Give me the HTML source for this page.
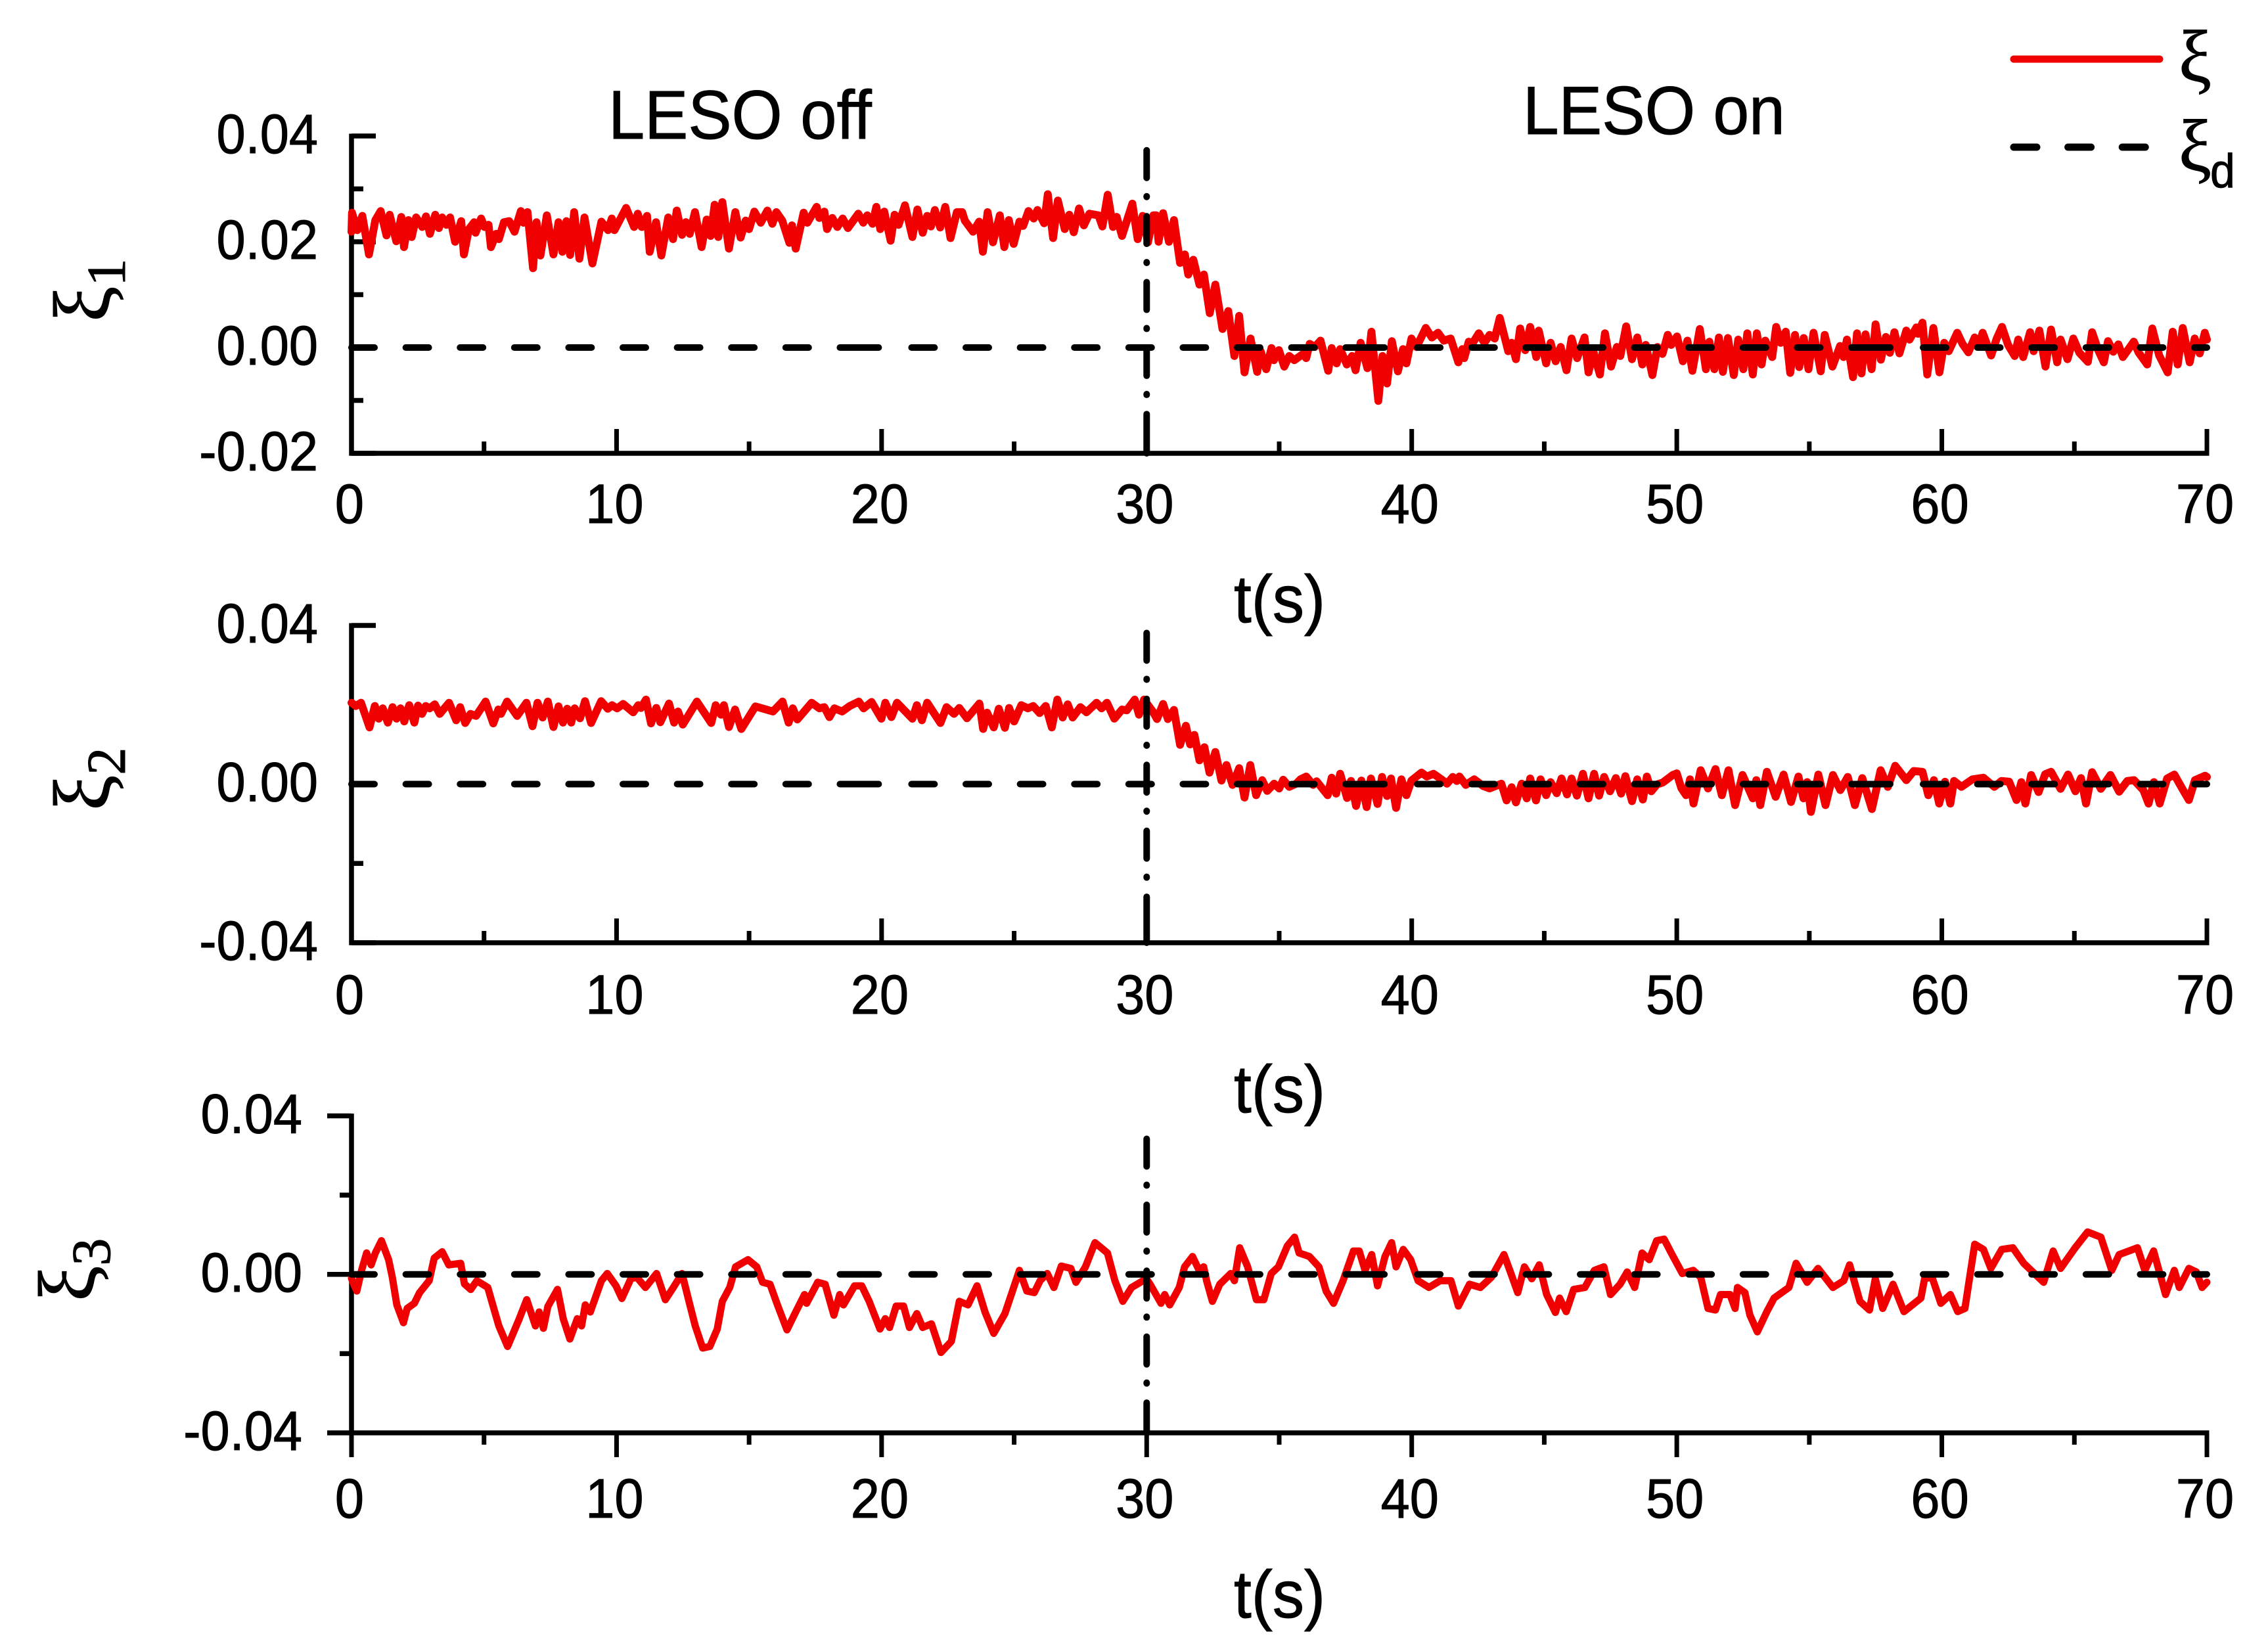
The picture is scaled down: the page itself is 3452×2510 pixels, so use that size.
<!DOCTYPE html>
<html lang="en">
<head>
<meta charset="utf-8">
<title>LESO off / on response chart</title>
<style>
html,body{margin:0;padding:0;background:#fff;width:3452px;height:2510px;overflow:hidden}
svg{display:block}
text{font-family:"Liberation Sans",sans-serif;fill:#000;stroke:#000;stroke-width:1}
</style>
</head>
<body>
<svg id="chart" xmlns="http://www.w3.org/2000/svg" width="3452" height="2510" viewBox="0 0 3452 2510"></svg>
<script>
// Values are in units of 1e-4; time is in seconds.
const xTicksMajor = [0,10,20,30,40,50,60,70];
const xTicksMinor = [5,15,25,35,45,55,65];
const xTickLabels = ["0","10","20","30","40","50","60","70"];
const xDomain = [0,70];
const eventTime = 30;

const yTicksMajor1 = [400,200,0,-200];
const yTicksMinor1 = [300,100,-100];
const yTickLabels1 = ["0.04","0.02","0.00","-0.02"];
const yDomain1 = [-200,400];
const eventTop1 = 373;

const yTicksMajor2 = [400,0,-400];
const yTicksMinor2 = [200,-200];
const yTickLabels2 = ["0.04","0.00","-0.04"];
const yDomain2 = [-400,400];
const eventTop2 = 381;

const yTicksMajor3 = [400,0,-400];
const yTicksMinor3 = [200,-200];
const yTickLabels3 = ["0.04","0.00","-0.04"];
const yDomain3 = [-400,400];
const eventTop3 = 342;

const desiredValue = 0;

const xi1 = [[0,219],[.02,255],[.22,222],[.41,249],[.66,176],[.9,241],[1.1,258],[1.32,212],[1.44,251],[1.69,201],[1.88,247],[1.98,190],[2.15,241],[2.27,209],[2.44,246],[2.67,228],[2.81,248],[2.96,215],[3.16,251],[3.3,226],[3.42,246],[3.58,232],[3.72,246],[3.91,200],[4.14,239],[4.24,176],[4.43,224],[4.63,237],[4.68,217],[4.89,244],[5.02,228],[5.17,232],[5.26,190],[5.46,215],[5.56,205],[5.75,237],[5.95,239],[6.15,219],[6.39,258],[6.49,236],[6.64,256],[6.85,150],[6.98,237],[7.13,174],[7.37,250],[7.62,176],[7.81,237],[7.96,181],[8.11,239],[8.25,175],[8.4,256],[8.6,168],[8.79,246],[9.09,159],[9.43,238],[9.68,222],[9.82,244],[9.92,222],[10.36,264],[10.66,228],[10.8,253],[10.95,228],[11.15,249],[11.25,181],[11.49,237],[11.69,174],[11.95,246],[12.13,205],[12.27,259],[12.47,213],[12.62,237],[12.76,215],[12.96,256],[13.21,190],[13.4,242],[13.55,211],[13.7,270],[13.84,209],[13.99,275],[14.24,187],[14.48,256],[14.68,208],[14.87,240],[15,224],
[15.2,257],[15.44,236],[15.69,259],[15.88,234],[16.03,256],[16.25,240],[16.52,198],[16.62,231],[16.76,187],[17.06,255],[17.2,236],[17.55,266],[17.65,245],[17.84,257],[17.94,224],[18.14,245],[18.33,228],[18.53,244],[18.73,226],[19.12,253],[19.31,236],[19.46,250],[19.66,234],[19.8,266],[19.95,224],[20.1,257],[20.34,202],[20.49,251],[20.64,232],[20.88,269],[21.16,209],[21.35,261],[21.55,217],[21.72,249],[21.86,229],[22.01,260],[22.21,227],[22.4,266],[22.6,207],[22.84,256],[23.04,256],[23.14,240],[23.45,219],[23.68,238],[23.82,181],[24,256],[24.2,199],[24.46,250],[24.63,190],[24.8,241],[24.98,196],[25.2,238],[25.34,230],[25.54,258],[25.74,244],[25.88,260],[26.13,235],[26.27,290],[26.47,207],[26.65,278],[26.91,224],[27.08,251],[27.25,218],[27.45,263],[27.63,231],[27.84,253],[28.18,250],[28.33,229],[28.53,289],[28.73,228],[28.87,247],[29.07,211],[29.46,272],[29.66,205],[29.85,249],[30.05,199],[30.25,250],
[30.36,250],[30.45,200],[30.62,254],[30.84,200],[31.03,241],[31.26,160],[31.44,176],[31.57,138],[31.76,166],[31.99,119],[32.16,138],[32.38,65],[32.59,119],[32.86,35],[33.08,69],[33.31,-16],[33.49,60],[33.69,-47],[33.92,17],[34.17,-46],[34.3,-7],[34.51,-41],[34.71,-1],[34.8,-24],[34.99,-5],[35.19,-36],[35.38,-16],[35.57,-24],[35.9,-12],[36.02,-20],[36.15,7],[36.34,1],[36.56,13],[36.85,-44],[36.98,-1],[37.17,-30],[37.3,-3],[37.55,-32],[37.75,-16],[37.88,-43],[38.07,9],[38.33,-39],[38.48,30],[38.74,-101],[38.9,-16],[39.07,-68],[39.25,12],[39.48,-45],[39.67,-3],[39.8,-30],[39.99,17],[40.18,1],[40.53,37],[40.76,19],[40.99,28],[41.21,13],[41.47,17],[41.76,-28],[41.91,-3],[41.98,-20],[42.15,11],[42.28,7],[42.53,27],[42.74,9],[42.94,24],[43.13,17],[43.32,56],[43.64,-7],[43.77,9],[43.93,-22],[44.09,36],[44.28,-5],[44.47,39],[44.7,-18],[44.79,32],[45.07,-30],[45.24,9],[45.43,-26],[45.62,1],[45.84,-43],[46.03,17],[46.24,-20],[46.52,19],[46.67,-47],[46.85,-7],[47.1,-51],[47.29,27],[47.52,-36],[47.74,1],[47.87,-16],[48.09,40],[48.31,-22],[48.51,19],[48.7,-32],[48.83,5],[49.08,-52],[49.27,1],[49.46,-12],[49.66,24],[49.79,5],
[50.01,21],[50.23,-26],[50.4,13],[50.59,-44],[50.87,35],[51.1,-41],[51.23,11],[51.42,-41],[51.59,19],[51.74,-46],[51.93,18],[52.15,-52],[52.32,15],[52.51,-41],[52.66,27],[52.87,-51],[53.02,27],[53.2,-32],[53.34,13],[53.6,-18],[53.75,39],[53.92,9],[54.11,30],[54.28,-48],[54.46,24],[54.62,-37],[54.79,18],[54.97,-41],[55.16,28],[55.43,-45],[55.58,24],[55.87,-36],[56.16,3],[56.29,-18],[56.42,15],[56.65,-56],[56.8,27],[56.97,-49],[57.12,25],[57.35,-41],[57.5,44],[57.7,-23],[57.89,20],[58.04,-10],[58.21,29],[58.4,-11],[58.66,32],[58.78,15],[59.04,38],[59.1,26],[59.27,47],[59.45,-51],[59.68,37],[59.91,-47],[60.09,9],[60.26,-7],[60.58,28],[60.78,7],[61,-9],[61.24,19],[61.4,5],[61.54,28],[61.86,-15],[62.07,17],[62.27,39],[62.5,5],[62.75,-16],[62.88,15],[63.07,-18],[63.33,29],[63.46,-7],[63.68,32],[63.91,-36],[64.12,34],[64.35,-28],[64.48,15],[64.74,-22],[64.96,17],[65.19,-10],[65.51,-27],[65.67,29],[65.9,-5],[66.11,-28],[66.27,12],[66.47,-8],[66.66,6],[66.83,-18],[67.24,11],[67.43,-10],[67.75,-32],[67.94,36],[68.2,-15],[68.52,-47],[68.71,30],[68.9,-32],[69.09,37],[69.35,-28],[69.54,17],[69.73,-11],[69.92,28],[70,15]];

const xi2 = [[0,205],[.16,197],[.36,205],[.68,143],[.88,197],[1.03,165],[1.18,191],[1.37,155],[1.55,194],[1.7,165],[1.85,191],[1.99,158],[2.18,199],[2.37,155],[2.51,198],[2.66,177],[2.8,197],[2.95,191],[3.14,201],[3.33,177],[3.68,205],[3.95,161],[4.1,194],[4.29,154],[4.49,177],[4.7,172],[5.06,208],[5.35,153],[5.54,188],[5.64,177],[5.87,208],[6.25,172],[6.6,205],[6.83,146],[7.02,205],[7.21,168],[7.41,208],[7.62,144],[7.81,196],[7.98,155],[8.14,190],[8.29,155],[8.42,191],[8.62,166],[8.81,209],[9.04,154],[9.42,209],[9.67,190],[9.83,199],[10.02,191],[10.25,202],[10.63,181],[10.82,199],[10.92,192],[11.11,213],[11.3,153],[11.5,192],[11.65,156],[11.98,203],[12.17,155],[12.32,183],[12.5,150],[13.03,208],[13.57,154],[13.74,199],[13.94,175],[14.05,199],[14.24,144],[14.47,188],[14.71,139],[15.24,196],[15.9,183],[16.26,208],[16.49,155],[16.65,191],[16.82,163],[17.36,205],[17.65,191],[17.84,194],[18.03,169],[18.22,191],[18.51,183],[18.8,197],[19.14,208],[19.32,191],[19.62,207],[19.99,165],[20.14,205],[20.37,169],[20.58,205],[21.16,165],[21.33,199],[21.52,161],[21.72,205],[22.22,154],[22.45,194],[22.73,177],[22.93,192],[23.22,166],[23.69,203],[23.83,139],[23.98,180],[24.23,143],[24.42,190],[24.65,142],[24.81,192],[25,158],[25.27,199],[25.52,191],[25.72,197],[25.96,179],[26.19,197],[26.42,143],[26.63,213],[26.83,168],[27.02,201],[27.21,168],[27.5,194],[27.73,181],[28.11,205],[28.3,191],[28.5,205],[28.78,165],[29.07,188],[29.25,186],[29.55,213],[29.71,175],[29.9,213],
[30.23,183],[30.39,164],[30.62,202],[30.8,164],[31.03,187],[31.26,99],[31.48,147],[31.64,100],[31.8,124],[31.99,60],[32.18,93],[32.37,29],[32.59,81],[32.82,9],[33.01,48],[33.24,-2],[33.49,40],[33.69,-34],[33.91,48],[34.13,-28],[34.36,10],[34.55,-17],[34.81,1],[35,-11],[35.15,11],[35.38,-7],[35.64,1],[35.8,12],[36.02,19],[36.28,-2],[36.41,7],[36.83,-28],[36.98,16],[37.15,-24],[37.3,26],[37.56,-35],[37.71,8],[37.9,-55],[38.1,9],[38.3,-58],[38.46,14],[38.71,-50],[38.88,18],[39.07,-30],[39.22,14],[39.41,-60],[39.61,12],[39.8,-28],[39.99,9],[40.37,29],[40.57,19],[40.82,26],[41.12,12],[41.33,1],[41.55,18],[41.7,8],[41.8,19],[42.04,-2],[42.36,12],[42.7,-5],[42.94,-11],[43.38,1],[43.58,-41],[43.77,-8],[43.93,-46],[44.15,1],[44.34,-36],[44.47,14],[44.69,-41],[44.86,12],[45.07,-28],[45.24,5],[45.47,-23],[45.65,14],[45.86,-26],[46.03,14],[46.23,-29],[46.46,26],[46.67,-36],[46.88,26],[47.07,-29],[47.26,18],[47.48,-18],[47.7,15],[47.9,-24],[48.06,20],[48.31,-43],[48.51,12],[48.72,-39],[48.87,19],[49.04,-18],[49.25,-1],[49.47,4],[49.85,23],
[50,27],[50.17,-10],[50.35,-28],[50.5,12],[50.63,-49],[50.9,35],[51.18,-11],[51.46,38],[51.7,-28],[51.95,35],[52.2,-53],[52.48,23],[52.87,-36],[53.0,10],[53.15,-53],[53.4,31],[53.73,-32],[54.03,24],[54.31,-45],[54.59,19],[54.78,-36],[54.92,5],[55.06,-70],[55.34,24],[55.61,-53],[55.89,23],[56.17,-15],[56.45,18],[56.72,-53],[57,15],[57.36,-63],[57.69,35],[57.96,-7],[58.24,46],[58.66,10],[58.94,33],[59.27,31],[59.49,-28],[59.7,10],[59.9,-49],[60.12,6],[60.32,-49],[60.46,8],[60.74,-7],[61.15,12],[61.57,16],[61.98,-7],[62.25,8],[62.54,6],[62.82,-40],[63.0,5],[63.15,-49],[63.37,23],[63.65,-20],[63.9,25],[64.12,31],[64.48,-12],[64.76,24],[65.04,-18],[65.25,15],[65.44,-49],[65.67,30],[66,-12],[66.36,23],[66.69,-19],[67,8],[67.25,10],[67.6,-15],[67.8,-49],[68,5],[68.22,-49],[68.5,14],[68.77,24],[69.1,-15],[69.32,-40],[69.55,10],[69.93,21],[70,18]];

const xi3 = [[0,-10],[.08,-24],[.2,-42],[.38,10],[.57,54],[.74,24],[.9,54],[1.13,85],[1.4,37],[1.54,-7],[1.71,-77],[1.96,-122],[2.1,-86],[2.37,-73],[2.57,-46],[2.93,-16],[3.12,41],[3.42,57],[3.67,24],[4.12,28],[4.26,-24],[4.5,-38],[4.73,-16],[5.14,-33],[5.33,-77],[5.56,-130],[5.89,-182],[6.11,-147],[6.33,-112],[6.61,-64],[6.94,-130],[7.08,-95],[7.24,-136],[7.41,-81],[7.77,-38],[7.99,-112],[8.24,-163],[8.52,-112],[8.68,-130],[8.82,-77],[9.01,-95],[9.29,-42],[9.43,-16],[9.65,2],[9.98,-29],[10.2,-61],[10.54,-11],[10.76,-7],[11.09,-33],[11.51,2],[11.84,-64],[12.14,-33],[12.47,2],[12.75,-73],[12.97,-130],[13.25,-186],[13.52,-182],[13.8,-138],[13.99,-68],[14.27,-33],[14.49,19],[14.96,37],[15.29,19],[15.51,-20],[15.79,-25],[16.07,-77],[16.43,-140],[16.76,-95],[17.09,-51],[17.17,-73],[17.59,-20],[17.87,-25],[18.2,-103],[18.42,-51],[18.56,-77],[18.98,-29],[19.25,-29],[19.53,-68],[19.94,-138],[20.14,-112],[20.3,-134],[20.55,-80],[20.83,-80],[21.05,-134],[21.33,-99],[21.55,-134],[21.88,-125],[22.24,-197],[22.63,-169],[22.93,-68],[23.26,-77],[23.6,-29],[23.9,-95],[24.23,-149],[24.65,-99],[25.2,10],[25.48,-42],[25.76,-46],[25.98,-16],[26.25,2],[26.5,-33],[26.78,21],[27.14,15],[27.33,-20],[27.69,19],[28.05,80],[28.52,54],[28.8,-16],[29.1,-68],[29.43,-33],[29.99,-11],[30.13,-25],[30.54,-73],[30.68,-51],[30.87,-77],[31.23,-33],[31.43,19],[31.73,45],[31.98,10],[32.15,19],[32.26,-16],[32.48,-68],[32.76,-25],[33.17,2],[33.31,-16],[33.51,67],[33.81,19],[34.14,-64],[34.42,-64],[34.7,2],[34.97,19],[35.31,72],[35.58,94],[35.75,54],[36.14,45],[36.5,19],[36.77,-42],[37.05,-73],[37.41,-16],[37.8,59],[38.02,59],[38.24,10],[38.49,50],[38.71,-29],[38.99,45],[39.24,80],[39.41,19],[39.68,63],[39.96,37],[40.24,-16],[40.65,-33],[41.07,-16],[41.48,-16],[41.76,-80],[42.18,-25],[42.59,-33],[43.01,-7],[43.48,50],[43.7,10],[44,-46],[44.25,19],[44.53,-11],[44.81,24],[45.09,-51],[45.42,-96],[45.58,-60],[45.83,-94],[46.11,-38],[46.53,-33],[46.89,10],[47.25,19],[47.5,-51],[47.86,-25],[48.13,6],[48.41,-33],[48.69,54],[48.96,37],[49.24,85],[49.52,89],[49.79,54],[50.21,2],[50.62,10],[50.9,-7],[51.18,-86],[51.46,-90],[51.65,-51],[52.01,-51],[52.2,-86],[52.29,-33],[52.57,-46],[52.76,-103],[53.04,-145],[53.4,-94],[53.67,-60],[54.23,-33],[54.5,28],[54.92,-20],[55.33,15],[55.89,-33],[56.3,-16],[56.52,24],[56.91,-68],[57.27,-90],[57.49,-11],[57.77,-86],[58.16,-25],[58.57,-94],[59.21,-60],[59.35,-11],[59.63,-7],[59.96,-73],[60.32,-51],[60.6,-94],[60.87,-86],[61.24,76],[61.57,63],[61.85,15],[62.26,63],[62.68,67],[63.09,28],[63.84,-20],[64.2,59],[64.48,15],[65.03,67],[65.5,107],[66,94],[66.41,10],[66.69,50],[67.38,67],[67.66,10],[67.99,59],[68.44,-51],[68.77,10],[68.96,-33],[69.32,15],[69.6,6],[69.82,-33],[70,-20]];

const svg = document.getElementById('chart');
const NS = 'http://www.w3.org/2000/svg';
const X0 = 535, X1 = 3359;
const SX = 0.945;
function xScale(t){ return X0 + (t - xDomain[0]) / (xDomain[1] - xDomain[0]) * (X1 - X0); }
function makeY(domain, top, bottom){ return function(v){ return bottom - (v - domain[0]) / (domain[1] - domain[0]) * (bottom - top); }; }
function add(tag, attrs, text){
  const el = document.createElementNS(NS, tag);
  for (const k in attrs) el.setAttribute(k, attrs[k]);
  if (text !== undefined) el.textContent = text;
  svg.appendChild(el);
  return el;
}
function place(x, y){ return 'translate(' + x + ',' + y + ') scale(' + SX + ',1)'; }
function repeat(list, n){ let out = []; for (let i = 0; i < n; i++) out = out.concat(list); return out; }
const zeroDash = [].concat(
  repeat([35,47.6],9), [59,50],
  repeat([35,47.6],8), [59,50],
  repeat([35,47.6],8), [59,50],
  repeat([35,47.6],8)
).join(' ');
const eventDash = '42 28 1 29.4 42 28 1 29.4 42 28 1 29.4 42 28 1 29.4 90 60';

function drawPanel(p){
  const y = makeY(p.domain, p.top, p.bottom);
  const dir = p.outward ? 1 : -1;
  // x ticks
  xTicksMajor.forEach(function(t, i){
    const m = add('line', {x1:xScale(t), x2:xScale(t), y1:p.bottom, y2:p.bottom + dir*37, stroke:'#000', 'stroke-width':7});
    
    
    const lbl = add('text', {transform:place(xScale(t)-3, p.xLabelY), 'font-size':p.fs, 'text-anchor':'middle'}, xTickLabels[i]);
    
    
  });
  xTicksMinor.forEach(function(t){
    const m = add('line', {x1:xScale(t), x2:xScale(t), y1:p.bottom, y2:p.bottom + dir*18, stroke:'#000', 'stroke-width':7});
    
    
  });
  // y ticks
  p.major.forEach(function(v, i){
    const m = add('line', {x1:X0, x2:X0 - dir*37, y1:y(v), y2:y(v), stroke:'#000', 'stroke-width':7.5});
    
    
    const lbl = add('text', {transform:place(p.yLabelX, y(v)+26), 'font-size':p.fs, 'text-anchor':'end'}, p.labels[i]);
    
    
  });
  p.minor.forEach(function(v){
    const m = add('line', {x1:X0, x2:X0 - dir*18, y1:y(v), y2:y(v), stroke:'#000', 'stroke-width':7.5});
    
    
  });
  // axes
  const ax = add('line', {x1:X0-3.5, x2:X1+3.5, y1:p.bottom, y2:p.bottom, stroke:'#000', 'stroke-width':7.5});
  
  
  const ay = add('line', {x1:X0, x2:X0, y1:p.top-3.5, y2:p.bottom+3.5, stroke:'#000', 'stroke-width':7.5});
  
  
  // measured series
  const d = p.data.map(function(s, i){ return (i ? 'L' : 'M') + xScale(s[0]).toFixed(1) + ' ' + y(s[1]).toFixed(1); }).join('');
  const line = add('path', {d:d, fill:'none', stroke:'#f00000', 'stroke-width':p.sw, 'stroke-linejoin':'round', 'stroke-linecap':'round'});
  
  
  // desired series
  const dl = add('line', {x1:xScale(xDomain[0]), x2:xScale(xDomain[1]), y1:y(desiredValue), y2:y(desiredValue), stroke:'#000', 'stroke-width':10, 'stroke-linecap':'round', 'stroke-dasharray':zeroDash});
  
  
  // LESO switch time
  const ev = add('line', {x1:xScale(eventTime), x2:xScale(eventTime), y1:y(p.eventTop), y2:p.bottom, stroke:'#000', 'stroke-width':10, 'stroke-linecap':'round', 'stroke-dasharray':eventDash});
  
  
  // y-axis title
  const yt = add('text', {transform:'translate(' + p.titleX + ',' + p.titleY + ') rotate(-90)', 'font-size':122, style:'font-family:"Liberation Serif",serif'});
  
  
  const main = document.createElementNS(NS, 'tspan');
  main.textContent = 'ξ';
  yt.appendChild(main);
  const sub = document.createElementNS(NS, 'tspan');
  sub.setAttribute('font-size', '84');
  sub.setAttribute('dy', '24');
  sub.textContent = p.sub;
  yt.appendChild(sub);
  // x-axis title
  const xt = add('text', {transform:place(1878, p.xTitleY), 'font-size':102}, 't(s)');
  
  
}

drawPanel({id:'panel-xi1', top:207, bottom:690, domain:yDomain1, major:yTicksMajor1, minor:yTicksMinor1, labels:yTickLabels1, data:xi1, eventTop:eventTop1, outward:false, xLabelY:796, yLabelX:484, fs:84, sw:12, titleX:166, titleY:490, sub:'1', xTitleY:947});
drawPanel({id:'panel-xi2', top:952, bottom:1435, domain:yDomain2, major:yTicksMajor2, minor:yTicksMinor2, labels:yTickLabels2, data:xi2, eventTop:eventTop2, outward:false, xLabelY:1543, yLabelX:484, fs:84, sw:12, titleX:166, titleY:1234, sub:'2', xTitleY:1693});
drawPanel({id:'panel-xi3', top:1698.5, bottom:2181, domain:yDomain3, major:yTicksMajor3, minor:yTicksMinor3, labels:yTickLabels3, data:xi3, eventTop:eventTop3, outward:true, xLabelY:2310, yLabelX:460, fs:84, sw:11, titleX:143, titleY:1981, sub:'3', xTitleY:2462});

const off = add('text', {transform:place(926, 211), 'font-size':105}, 'LESO off');


const on = add('text', {transform:place(2318, 204), 'font-size':104}, 'LESO on');



const legLine = add('line', {x1:3065, x2:3287, y1:90, y2:90, stroke:'#f00000', 'stroke-width':11, 'stroke-linecap':'round'});


const legText = add('text', {x:3316, y:124, 'font-size':112, style:'font-family:"Liberation Serif",serif'}, 'ξ');


const legDash = add('line', {x1:3065, x2:3270, y1:224, y2:224, stroke:'#000', 'stroke-width':11, 'stroke-linecap':'round', 'stroke-dasharray':'35 47.6'});


const legText2 = add('text', {x:3316, y:260, 'font-size':112, style:'font-family:"Liberation Serif",serif'}, 'ξ');


const legSub = add('text', {transform:place(3364, 285), 'font-size':72}, 'd');


</script>
</body>
</html>
